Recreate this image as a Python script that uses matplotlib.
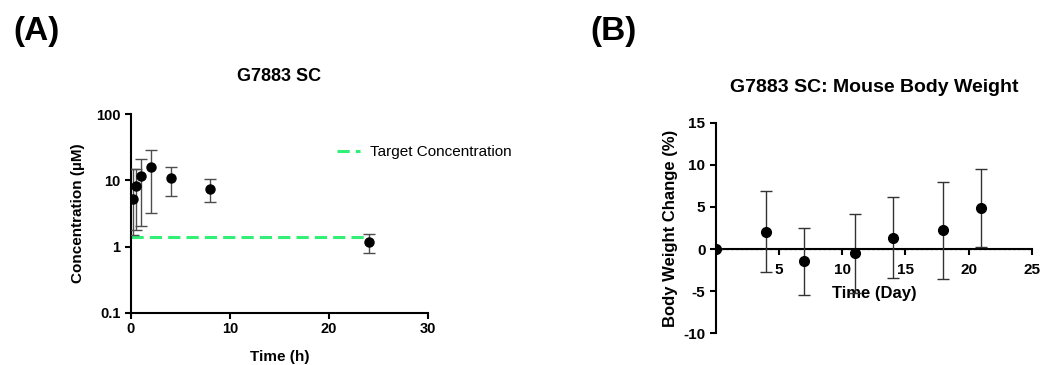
import numpy as np
import matplotlib
matplotlib.use('Agg')
import matplotlib.pyplot as plt

plt.rcParams['font.family'] = ['Liberation Sans', 'DejaVu Sans']
plt.rcParams['axes.unicode_minus'] = False

# (A) pharmacokinetics
time_h = [0.25, 0.5, 1, 2, 4, 8, 24]
conc = [5.3, 8.3, 11.6, 15.9, 10.8, 7.5, 1.16]
conc_hi = [15, 15, 21, 28.6, 15.7, 10.4, 1.53]
conc_lo = [1.5, 1.78, 2.04, 3.2, 5.9, 4.8, 0.79]
target_conc = 1.41
target_x = [0, 23.5]

# (B) body weight
day = [0, 4, 7, 11, 14, 18, 21]
bw_change = [0, 2.06, -1.46, -0.51, 1.35, 2.22, 4.91]
bw_sd = [0, 4.83, 4.0, 4.67, 4.8, 5.8, 4.65]

fig = plt.figure(figsize=(10.42, 3.65), dpi=100)

# ---- panel A ----
ax1 = fig.add_axes([0.1257, 0.1425, 0.285, 0.545])
conc = np.array(conc)
yerr = [conc - np.array(conc_lo), np.array(conc_hi) - conc]
ax1.errorbar(time_h, conc, yerr=yerr, fmt='o', color='black', ms=6.5,
             ecolor='0.3', elinewidth=1.0, capsize=4, capthick=1.0, zorder=3)
ax1.plot(target_x, [target_conc, target_conc], color='#33EE77', lw=2.2,
         dashes=(4, 2), label='Target Concentration', zorder=2)
ax1.set_yscale('log')
ax1.set_ylim(0.1, 100)
ax1.set_xlim(0, 30)
ax1.set_yticks([0.1, 1, 10, 100])
ax1.set_yticklabels(['0.1', '1', '10', '100'])
ax1.minorticks_off()
ax1.set_xticks([0, 10, 20, 30])
for s in ['top', 'right']:
    ax1.spines[s].set_visible(False)
for s in ['left', 'bottom']:
    ax1.spines[s].set_linewidth(1.5)
ax1.tick_params(width=1.5, length=4, labelsize=10.5)
ax1.tick_params(axis='x', pad=2.5)
for lab in ax1.get_xticklabels() + ax1.get_yticklabels():
    lab.set_fontweight('bold')
ax1.set_xlabel('Time (h)', fontsize=11, fontweight='bold', labelpad=10)
ax1.set_ylabel('Concentration (µM)', fontsize=11, fontweight='bold', labelpad=8)
ax1.set_title('G7883 SC', fontsize=13, fontweight='bold', pad=24)
ax1.legend(loc='center left', bbox_to_anchor=(0.694, 0.809), frameon=False,
           fontsize=11, handlelength=1.5, handletextpad=0.65, borderpad=0,
           borderaxespad=0)

# ---- panel B ----
ax2 = fig.add_axes([0.687, 0.0868, 0.3033, 0.577])
ax2.errorbar(day, bw_change, yerr=bw_sd, fmt='o', color='black', ms=7,
             ecolor='0.2', elinewidth=1.0, capsize=4, capthick=1.0, zorder=3)
ax2.axhline(0, color='0.55', lw=1.0, ls=(0, (2, 1.5)), zorder=2.5)
ax2.set_xlim(0, 25)
ax2.set_ylim(-10, 15)
ax2.set_yticks([-10, -5, 0, 5, 10, 15])
ax2.set_xticks([5, 10, 15, 20, 25])
ax2.spines['bottom'].set_position(('data', 0))
for s in ['top', 'right']:
    ax2.spines[s].set_visible(False)
for s in ['left', 'bottom']:
    ax2.spines[s].set_linewidth(1.5)
ax2.tick_params(width=1.5, length=4, labelsize=11)
ax2.tick_params(axis='x', pad=6)
for lab in ax2.get_xticklabels() + ax2.get_yticklabels():
    lab.set_fontweight('bold')
ax2.set_xlabel('Time (Day)', fontsize=12, fontweight='bold')
ax2.xaxis.set_label_coords(0.5, 0.225)
ax2.set_ylabel('Body Weight Change (%)', fontsize=12, fontweight='bold', labelpad=4)
ax2.set_title('G7883 SC: Mouse Body Weight', fontsize=14, fontweight='bold', pad=22)

fig.text(0.035, 0.915, '(A)', fontsize=24, fontweight='bold', ha='center', va='center')
fig.text(0.589, 0.915, '(B)', fontsize=24, fontweight='bold', ha='center', va='center')

fig.savefig('out.png', dpi=100)
